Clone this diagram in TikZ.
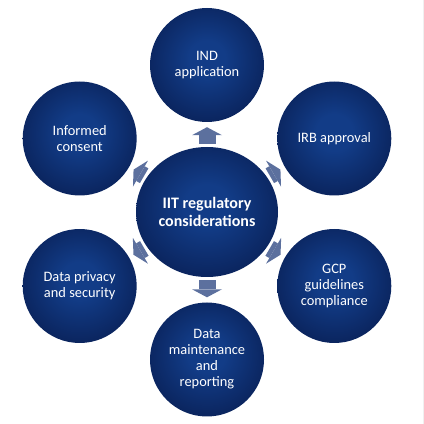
\documentclass[tikz,border=0pt]{standalone}
\usepackage{fontspec}
\setmainfont{Carlito}
\usepackage{xcolor}
\usetikzlibrary{arrows.meta, shapes.geometric}

\definecolor{navyin}{RGB}{18,60,135}
\definecolor{navyout}{RGB}{7,25,74}
\definecolor{arrowblue}{RGB}{92,112,158}
\pgfdeclareradialshading{bubbleshade}{\pgfpoint{0bp}{3bp}}{color(0bp)=(navyin); color(8bp)=(navyin); color(36bp)=(navyout); color(60bp)=(navyout)}

\begin{document}
\begin{tikzpicture}[x=1pt, y=1pt,
    bubble/.style={circle, shading=bubbleshade, minimum size=114pt, inner sep=0pt,
        text=white, align=center, font=\fontsize{14.4}{16}\selectfont},
    hub/.style={ellipse, shading=bubbleshade, minimum width=142pt, minimum height=130pt,
        inner sep=0pt, text=white, align=center, font=\fontsize{16}{17.7}\selectfont\bfseries},
    push/.style={arrowblue, line width=17pt,
        -{Triangle[width=30pt, length=8pt, line width=0pt]}, shorten <=3pt, shorten >=5pt}]
    \useasboundingbox (0,0) rectangle (424,424);
    \draw[gray!12, line width=0.8pt] (423,0) -- (423,424);

    % Centre
    \node[hub] (hub) at (207,212) {IIT regulatory\\considerations};

    % Surrounding topics
    \node[bubble] (ind) at (207,359) {IND\\application};
    \node[bubble] (irb) at (334.3,285.5) {IRB approval};
    \node[bubble] (gcp) at (334.3,138) {GCP\\guidelines\\compliance};
    \node[bubble] (data) at (207,64.5) {Data\\maintenance\\and\\reporting};
    \node[bubble] (privacy) at (79.7,138) {Data privacy\\and security};
    \node[bubble] (consent) at (79.7,285.5) {Informed\\consent};

    % Arrows out of the centre
    \draw[push] (hub) -- (ind);
    \draw[push] (hub) -- (irb);
    \draw[push] (hub) -- (gcp);
    \draw[push] (hub) -- (data);
    \draw[push] (hub) -- (privacy);
    \draw[push] (hub) -- (consent);
\end{tikzpicture}
\end{document}
